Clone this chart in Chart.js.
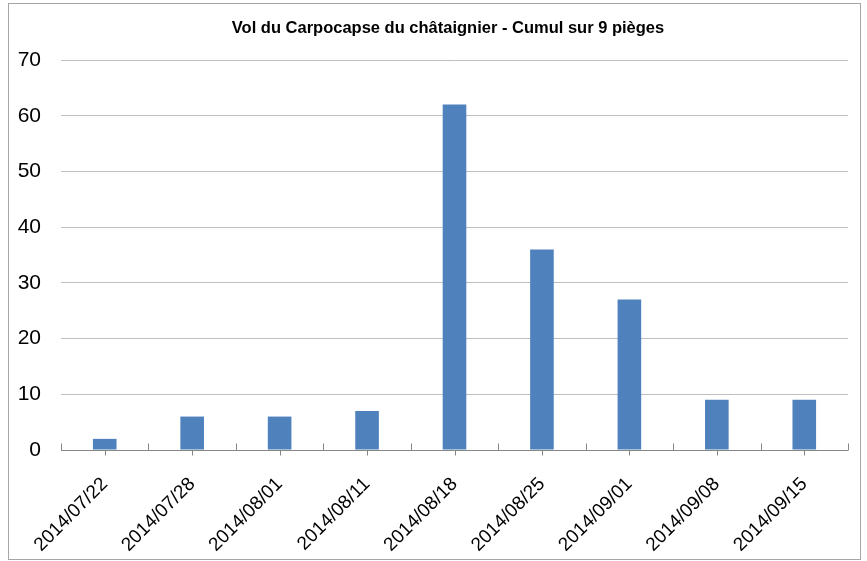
<!DOCTYPE html>
<html>
<head>
<meta charset="utf-8">
<script src="https://cdn.jsdelivr.net/npm/chart.js@4"></script>
<style>
  body { margin: 0; background: #fff; }
  #wrap { width: 867px; height: 561px; }
</style>
</head>
<body>
<div id="wrap"><canvas id="chart" width="867" height="561"></canvas></div>
<script>
const dates = ["2014/07/22", "2014/07/28", "2014/08/01", "2014/08/11", "2014/08/18",
               "2014/08/25", "2014/09/01", "2014/09/08", "2014/09/15"];
const captures = [2, 6, 6, 7, 62, 36, 27, 9, 9];
const chartTitle = "Vol du Carpocapse du châtaignier - Cumul sur 9 pièges";

const fontFamily = "'Liberation Sans', Arial, sans-serif";

// white background + thin grey frame like the Excel chart area, plus the title
const frame = {
  id: "frame",
  beforeDraw(chart) {
    const ctx = chart.ctx;
    ctx.save();
    ctx.fillStyle = "#fff";
    ctx.fillRect(0, 0, chart.width, chart.height);
    ctx.strokeStyle = "#a6a6a6";
    ctx.lineWidth = 1;
    ctx.strokeRect(8.5, 3.5, 852, 556);
    // excel puts the title over the plot area, a bit right of the canvas centre
    ctx.fillStyle = "#000";
    ctx.font = "bold 16.5px " + fontFamily;
    ctx.textAlign = "center";
    ctx.textBaseline = "middle";
    ctx.fillText(chartTitle, 448, 28);
    ctx.restore();
  }
};

// excel style axis: boundary marks above the line, centre marks below
const axisMarks = {
  id: "axisMarks",
  afterDatasetsDraw(chart) {
    const x = chart.scales.x;
    const ctx = chart.ctx;
    const yAxis = Math.round(chart.chartArea.bottom) + 0.5;
    const step = x.width / dates.length;
    ctx.save();
    ctx.strokeStyle = "#868686";
    ctx.lineWidth = 1;
    ctx.beginPath();
    ctx.moveTo(x.left, yAxis);
    ctx.lineTo(x.right, yAxis);
    for (let i = 0; i <= dates.length; i++) {
      const px = Math.round(x.left + i * step) + 0.5;
      ctx.moveTo(px, yAxis);
      ctx.lineTo(px, yAxis - 7);
    }
    dates.forEach((d, i) => {
      const px = Math.round(x.getPixelForValue(i)) + 0.5;
      ctx.moveTo(px, yAxis);
      ctx.lineTo(px, yAxis + 5);
    });
    ctx.stroke();
    ctx.restore();
  }
};

new Chart(document.getElementById("chart"), {
  type: "bar",
  data: {
    labels: dates,
    datasets: [{
      data: captures,
      backgroundColor: "#4f81bd",
      borderWidth: 0,
      barPercentage: 0.27,
      categoryPercentage: 1
    }]
  },
  options: {
    responsive: false,
    animation: false,
    layout: { padding: { top: 60, left: 8, right: 19, bottom: 0 } },
    plugins: {
      legend: { display: false },
      tooltip: { enabled: false },
      title: { display: false }
    },
    scales: {
      x: {
        grid: { display: false },
        border: { display: false },
        ticks: {
          color: "#000",
          font: { family: fontFamily, size: 19 },
          minRotation: 45,
          maxRotation: 45,
          padding: 15
        },
        afterFit(scale) { scale.height = 111; }
      },
      y: {
        min: 0,
        max: 70,
        grid: { color: "#bfbfbf", drawTicks: false },
        border: { display: false },
        ticks: {
          stepSize: 10,
          color: "#000",
          padding: 20,
          font: { family: fontFamily, size: 21 }
        },
        afterFit(scale) { scale.width = 53; }
      }
    }
  },
  plugins: [frame, axisMarks]
});
</script>
</body>
</html>
